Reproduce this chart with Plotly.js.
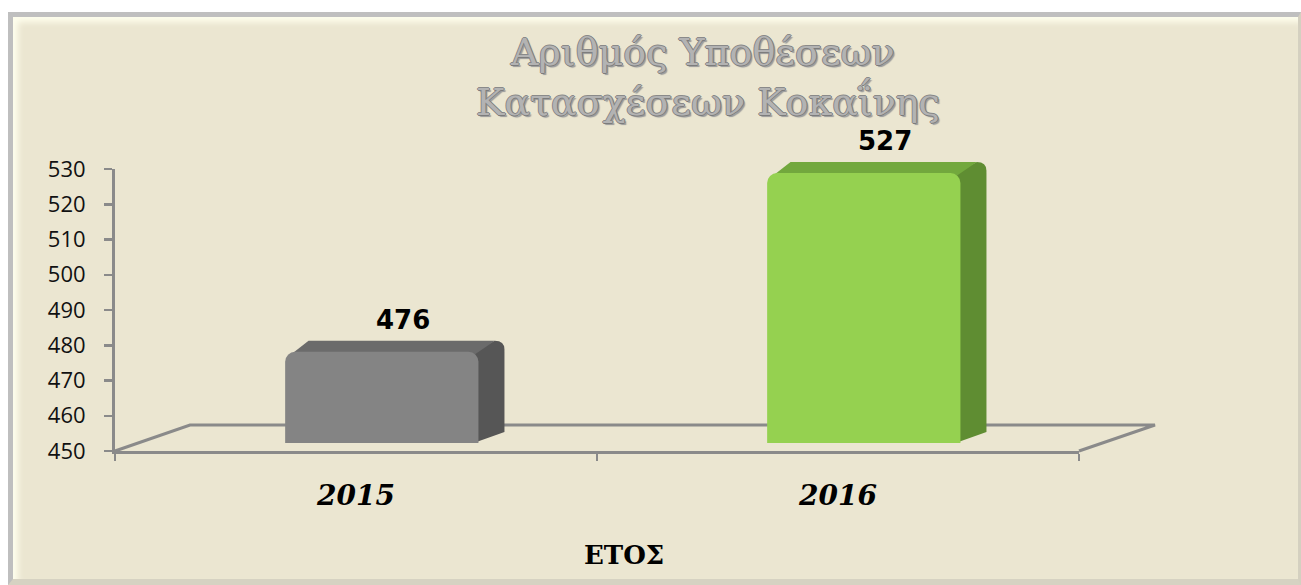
<!DOCTYPE html>
<html>
<head>
<meta charset="utf-8">
<script src="https://cdn.plot.ly/plotly-3.0.1.min.js"></script>
<style>
  html, body { margin: 0; padding: 0; background: #ffffff; }
  #frame {
    position: absolute; left: 8px; top: 12px; width: 1293px; height: 573px;
    box-sizing: border-box; background: #ebe6d1;
    border-top: 5px solid #bfbfbf; border-left: 5px solid #bfbfbf;
    border-right: 3px solid #d4d0c0; border-bottom: 6px solid #d6d2c2;
    box-shadow: inset 5px 5px 6px rgba(255,255,238,0.95);
  }
  #chart { position: absolute; left: 0; top: 0; width: 1301px; height: 585px; }
</style>
</head>
<body>
<div id="frame"></div>
<div id="chart"></div>
<script>
// ---- data ----
const years = ['2015', '2016'];
const cases = [476, 527];
const yTickVals = [450, 460, 470, 480, 490, 500, 510, 520, 530];
const titleLine1 = 'Αριθμός Υποθέσεων';
const titleLine2 = 'Κατασχέσεων Κοκαΐνης';
const xTitle = 'ΕΤΟΣ';

// ---- geometry / style ----
const W = 1301, H = 585;
const M = { l: 115, r: 222, t: 155, b: 134 };
const PW = W - M.l - M.r, PH = H - M.t - M.b;
const px2x = p => (p - M.l) / PW;
const px2y = p => (H - M.b - p) / PH;

const barColors = ['#848484', '#95d150'];
const sideColors = ['#565656', '#5f8d32'];
const topColors = ['#6b6b6b', '#72a83d'];
const axisColor = '#8a8a8a';

const barOffset = -0.147, barWidth = 0.401;
const depthX = 0.054;      // category units
const y2PxPerUnit = 3.506; // y2 scale
const depthY = 11 / y2PxPerUnit;
const y2Bottom = 450;
const y2Top = 450 + (H - M.b - 8 - M.t) / y2PxPerUnit;

const shapes = [];
// floor (back line + diagonals)
shapes.push({
  type: 'path', xref: 'paper', yref: 'paper', layer: 'below',
  path: `M ${px2x(115)},${px2y(451)} L ${px2x(190)},${px2y(425)} L ${px2x(1155)},${px2y(425)} L ${px2x(1079)},${px2y(451)}`,
  line: { color: axisColor, width: 3 }
});

cases.forEach((v, i) => {
  const L = i + barOffset, R = L + barWidth;
  const b = y2Bottom, t = v;
  shapes.push({
    type: 'path', xref: 'x', yref: 'y2', layer: 'below',
    path: `M ${R - 0.01},${b} L ${R + depthX},${b + depthY} L ${R + depthX},${t + depthY - 2.5} Q ${R + depthX},${t + depthY} ${R + depthX - 0.02},${t + depthY} L ${R - 0.01},${t} Z`,
    fillcolor: sideColors[i], line: { width: 0 }
  });
  shapes.push({
    type: 'path', xref: 'x', yref: 'y2', layer: 'below',
    path: `M ${L + 0.01},${t - 1} L ${L + depthX * 0.9},${t + depthY} L ${R + depthX - 0.02},${t + depthY} L ${R - 0.01},${t - 1} Z`,
    fillcolor: topColors[i], line: { width: 0 }
  });
});

const annotations = [];
cases.forEach((v, i) => {
  annotations.push({
    x: i, y: v, xref: 'x', yref: 'y2', text: String(v), showarrow: false,
    xshift: 47, yshift: 32, yanchor: 'middle',
    font: { family: 'DejaVu Sans', size: 26, weight: 'bold', color: '#000000' }
  });
});
const titleFont = { family: 'DejaVu Serif', size: 38, color: '#b3b3b3',
  shadow: '1px 0 0 #7c7c7c, -1px 0 0 #8a8a8a, 0 1px 0 #7c7c7c, 0 -1px 0 #8a8a8a, 2px 2px 1px #9a9a9a' };
annotations.push({ x: px2x(702), y: px2y(52), xref: 'paper', yref: 'paper', text: titleLine1,
  showarrow: false, xanchor: 'center', yanchor: 'middle', font: titleFont });
annotations.push({ x: px2x(708), y: px2y(100), xref: 'paper', yref: 'paper', text: titleLine2,
  showarrow: false, xanchor: 'center', yanchor: 'middle', font: titleFont });
annotations.push({ x: px2x(624), y: px2y(555), xref: 'paper', yref: 'paper', text: xTitle,
  showarrow: false, xanchor: 'center', yanchor: 'middle',
  font: { family: 'DejaVu Serif', size: 26, weight: 'bold', color: '#000000' } });

const data = [
  { // carrier trace so the visible value axis is drawn
    type: 'scatter', mode: 'markers', x: years, y: cases, xaxis: 'x', yaxis: 'y',
    marker: { opacity: 0, size: 1 }, hoverinfo: 'skip'
  },
  {
    type: 'bar', x: years, y: cases, xaxis: 'x', yaxis: 'y2',
    offset: barOffset, width: barWidth,
    marker: { color: barColors, cornerradius: 10, line: { width: 0 } },
    hoverinfo: 'x+y'
  }
];

const layout = {
  width: W, height: H,
  margin: M,
  paper_bgcolor: 'rgba(0,0,0,0)', plot_bgcolor: 'rgba(0,0,0,0)',
  showlegend: false,
  xaxis: {
    type: 'category', range: [-0.5, 1.5], anchor: 'y',
    showline: true, linecolor: axisColor, linewidth: 3,
    ticks: 'outside', tickson: 'boundaries', ticklen: 7, tickwidth: 2.5, tickcolor: axisColor,
    showgrid: false, zeroline: false, ticklabelstandoff: 17,
    tickfont: { family: 'DejaVu Serif', size: 28, weight: 'bold', style: 'italic', color: '#000000' }
  },
  yaxis: {
    domain: [0, (451 - 169) / PH], range: [450, 530], anchor: 'x',
    tickmode: 'array', tickvals: yTickVals,
    showline: true, linecolor: axisColor, linewidth: 3,
    ticks: 'outside', ticklen: 8, tickwidth: 2.5, tickcolor: axisColor,
    showgrid: false, zeroline: false, ticklabelstandoff: 14,
    tickfont: { family: 'Open Sans', size: 22, color: '#111111' }
  },
  yaxis2: {
    domain: [8 / PH, 1], range: [y2Bottom, y2Top], anchor: 'x', visible: false
  },
  shapes: shapes,
  annotations: annotations
};

Plotly.newPlot('chart', data, layout, { displayModeBar: false, staticPlot: true });
</script>
</body>
</html>
